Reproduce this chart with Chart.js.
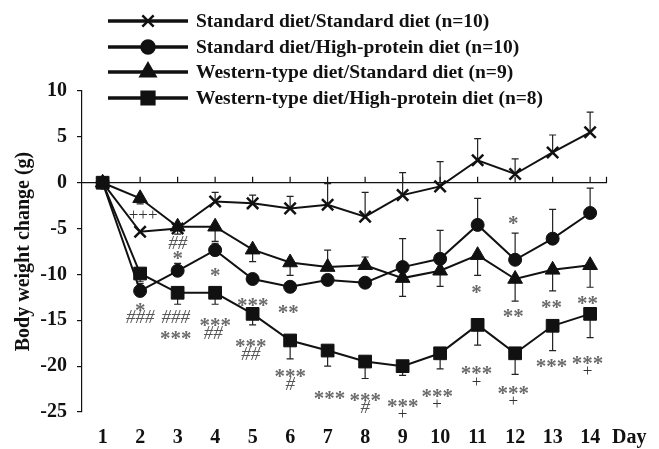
<!DOCTYPE html>
<html>
<head>
<meta charset="utf-8">
<script src="https://cdn.jsdelivr.net/npm/chart.js@4.4.0/dist/chart.umd.min.js"></script>
<style>
  html, body { margin: 0; padding: 0; background: #fff; }
  #wrap { width: 659px; height: 449px; }
</style>
</head>
<body>
<div id="wrap"><canvas id="bwChart" width="659" height="449"></canvas></div>
<script>
// Days of the study
var days = [1, 2, 3, 4, 5, 6, 7, 8, 9, 10, 11, 12, 13, 14];

// Series labels
var seriesNames = [
    'Standard diet/Standard diet (n=10)',
    'Standard diet/High-protein diet (n=10)',
    'Western-type diet/Standard diet (n=9)',
    'Western-type diet/High-protein diet (n=8)'
];

// Mean body weight change (g)
var stdStd = [0, -5.35, -5.0, -2.05, -2.25, -2.8, -2.4, -3.7, -1.35, -0.4, 2.45, 0.95, 3.3, 5.5];
var stdHp  = [0, -11.8, -9.6, -7.35, -10.5, -11.35, -10.6, -10.9, -9.2, -8.3, -4.6, -8.4, -6.1, -3.3];
var wesStd = [0, -1.7, -4.8, -4.8, -7.3, -8.7, -9.2, -9.0, -10.4, -9.6, -7.9, -10.5, -9.5, -9.0];
var wesHp  = [0, -9.9, -12.0, -12.0, -14.3, -17.2, -18.3, -19.5, -20.0, -18.6, -15.5, -18.6, -15.6, -14.3];

// End of the one-sided error bar (value where the whisker stops)
var stdStdErr = [null, null, null, -1.05, -1.35, -1.5, -0.1, -1.05, 1.1, 2.3, 4.8, 2.6, 5.2, 7.7];
var stdHpErr  = [null, -11.0, -8.8, -6.6, null, null, null, null, -6.1, -5.2, -1.7, -5.5, -2.9, -0.6];
var wesStdErr = [null, -2.3, -5.6, -6.4, -8.6, -10.1, -7.35, -8.1, -12.4, -11.3, -10.1, -12.9, -11.8, -11.4];
var wesHpErr  = [null, -10.8, -13.25, -13.25, -15.5, -19.2, -20.0, -21.35, -21.0, -20.3, -17.7, -20.9, -18.3, -16.9];

// Y tick labels
var yTicks = [10, 5, 0, -5, -10, -15, -20, -25];

// Significance marks: [day, value, text]
var marks = [
    [2.08, -3.5, '+++'],
    [3, -6.55, '##'],
    [3, -7.9, '*'],
    [4, -9.7, '*'],
    [5, -13.0, '***'],
    [5.95, -13.8, '**'],
    [2, -13.5, '*'],
    [2, -14.6, '###'],
    [2.95, -14.6, '###'],
    [2.95, -16.6, '***'],
    [4, -15.2, '***'],
    [3.95, -16.3, '##'],
    [4.95, -17.5, '***'],
    [4.95, -18.6, '##'],
    [6, -20.7, '***'],
    [6, -21.9, '#'],
    [7.05, -23.2, '***'],
    [8, -23.4, '***'],
    [8, -24.45, '#'],
    [9, -24.0, '***'],
    [9, -25.2, '+'],
    [9.92, -22.9, '***'],
    [9.92, -24.1, '+'],
    [10.97, -11.6, '*'],
    [10.97, -20.45, '***'],
    [10.97, -21.65, '+'],
    [11.95, -4.1, '*'],
    [11.95, -14.2, '**'],
    [11.95, -22.6, '***'],
    [11.95, -23.8, '+'],
    [12.97, -13.25, '**'],
    [12.97, -19.65, '***'],
    [13.93, -12.8, '**'],
    [13.93, -19.3, '***'],
    [13.93, -20.5, '+']
];

var serif = "'Liberation Serif', 'Times New Roman', serif";
var styles = ['crossRot', 'circle', 'triangle', 'rect'];
var radii = [8, 6.5, 8.5, 9];
var errSets = [stdStdErr, stdHpErr, wesStdErr, wesHpErr];

function toPoints(arr) {
    return days.map(function (d, i) { return { x: d, y: arr[i] }; });
}

// zero line with small upward ticks, and the error whiskers
var underlay = {
    id: 'underlay',
    beforeDatasetsDraw: function (chart) {
        var ctx = chart.ctx, xs = chart.scales.x, ys = chart.scales.y;
        var area = chart.chartArea;
        var y0 = ys.getPixelForValue(0);
        ctx.save();
        ctx.strokeStyle = '#111';
        ctx.lineWidth = 1.2;
        ctx.beginPath();
        ctx.moveTo(area.left, y0);
        ctx.lineTo(area.right, y0);
        days.slice(1).forEach(function (d) {
            var px = xs.getPixelForValue(d);
            ctx.moveTo(px, y0);
            ctx.lineTo(px, y0 - 6);
        });
        ctx.moveTo(area.right - 0.5, y0);
        ctx.lineTo(area.right - 0.5, y0 - 6);
        ctx.stroke();

        ctx.strokeStyle = '#222';
        ctx.lineWidth = 1.2;
        errSets.forEach(function (errs, s) {
            var vals = chart.data.datasets[s].data;
            errs.forEach(function (e, i) {
                if (e === null) return;
                var px = xs.getPixelForValue(days[i]);
                var pa = ys.getPixelForValue(vals[i].y);
                var pb = ys.getPixelForValue(e);
                ctx.beginPath();
                ctx.moveTo(px, pa);
                ctx.lineTo(px, pb);
                ctx.moveTo(px - 3.5, pb);
                ctx.lineTo(px + 3.5, pb);
                ctx.stroke();
            });
        });
        ctx.restore();
    }
};

// significance marks, legend and "Day" label
var overlay = {
    id: 'overlay',
    afterDatasetsDraw: function (chart) {
        var ctx = chart.ctx, xs = chart.scales.x, ys = chart.scales.y;
        ctx.save();
        marks.forEach(function (m) {
            var px = xs.getPixelForValue(m[0]);
            var py = ys.getPixelForValue(m[1]);
            var c = m[2].charAt(0);
            if (c === '*') {
                ctx.font = "bold 21px " + serif;
                ctx.fillStyle = '#6a6a6a';
            } else if (c === '#') {
                ctx.font = "italic 19px " + serif;
                ctx.fillStyle = '#555';
            } else {
                ctx.font = "17px " + serif;
                ctx.fillStyle = '#333';
            }
            ctx.textAlign = 'center';
            ctx.textBaseline = 'alphabetic';
            var tm = ctx.measureText(m[2]);
            var off = (tm.actualBoundingBoxAscent - tm.actualBoundingBoxDescent) / 2;
            ctx.fillText(m[2], px, py + off);
        });

        // legend
        var rows = [21, 47, 72, 98];
        seriesNames.forEach(function (name, i) {
            var y = rows[i];
            ctx.strokeStyle = '#111';
            ctx.lineWidth = 3.5;
            ctx.beginPath();
            ctx.moveTo(108, y);
            ctx.lineTo(188, y);
            ctx.stroke();
            ctx.fillStyle = '#111';
            ctx.lineWidth = 2.5;
            Chart.helpers.drawPoint(ctx, { pointStyle: styles[i], radius: radii[i], rotation: 0, borderWidth: 2.5 }, 148, y);
            ctx.fillStyle = '#111';
            ctx.font = "bold 19.5px " + serif;
            ctx.textAlign = 'left';
            ctx.textBaseline = 'middle';
            ctx.fillText(name, 196, y + 1);
        });

        ctx.font = "bold 20px " + serif;
        ctx.textAlign = 'left';
        ctx.textBaseline = 'middle';
        ctx.fillStyle = '#111';
        ctx.fillText('Day', 612, 438);
        ctx.restore();
    }
};

var ctx = document.getElementById('bwChart').getContext('2d');
new Chart(ctx, {
    type: 'line',
    data: {
        datasets: [stdStd, stdHp, wesStd, wesHp].map(function (arr, i) {
            return {
                label: seriesNames[i],
                data: toPoints(arr),
                borderColor: '#111',
                borderWidth: 2,
                backgroundColor: '#111',
                pointStyle: styles[i],
                pointRadius: radii[i],
                pointBorderWidth: i === 0 ? 2.5 : 1,
                pointBackgroundColor: '#111',
                pointBorderColor: '#111',
                tension: 0
            };
        })
    },
    options: {
        responsive: false,
        animation: false,
        layout: { padding: { top: 91, right: 52, left: 0, bottom: 0 } },
        plugins: { legend: { display: false }, tooltip: { enabled: false } },
        scales: {
            x: {
                type: 'linear',
                min: 0.45,
                max: 14.45,
                afterBuildTicks: function (s) { s.ticks = days.map(function (d) { return { value: d }; }); },
                afterFit: function (s) { s.height = 37; },
                grid: { display: false, drawTicks: false },
                border: { display: false },
                ticks: {
                    color: '#111',
                    padding: 14,
                    maxRotation: 0,
                    autoSkip: false,
                    font: { family: serif, size: 20, weight: 'bold' }
                }
            },
            y: {
                min: -25,
                max: 10,
                afterBuildTicks: function (s) { s.ticks = yTicks.map(function (v) { return { value: v }; }); },
                afterFit: function (s) { s.width = 82; },
                grid: { display: true, drawOnChartArea: false, drawTicks: true, tickLength: 5, color: '#111', lineWidth: 1.2 },
                border: { display: true, color: '#111', width: 1.2 },
                ticks: {
                    color: '#111',
                    padding: 10,
                    font: { family: serif, size: 20, weight: 'bold' }
                },
                title: {
                    display: true,
                    text: 'Body weight change (g)',
                    color: '#111',
                    padding: { top: 12, bottom: 0 },
                    font: { family: serif, size: 20, weight: 'bold' }
                }
            }
        }
    },
    plugins: [underlay, overlay]
});
</script>
</body>
</html>
